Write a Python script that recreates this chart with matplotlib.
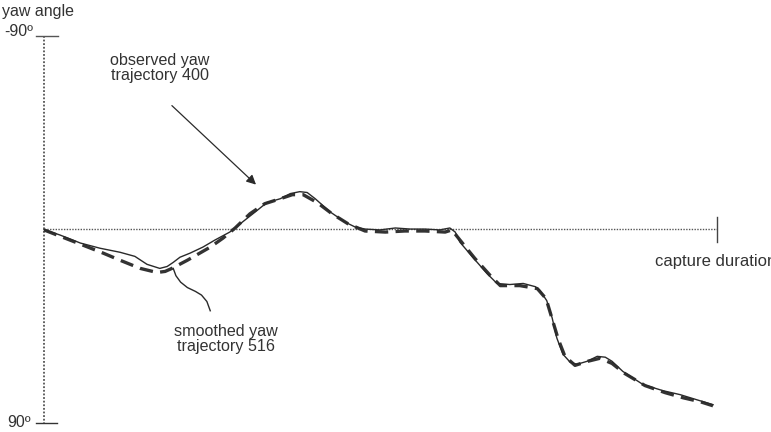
import matplotlib
matplotlib.use("Agg")
import matplotlib.pyplot as plt

plt.rcParams['font.family'] = ['Liberation Sans', 'DejaVu Sans']

# tempo (0..100 = duração da captura) e ângulo de guinada (graus)
obs_t = [0, 2.4, 5.4, 8.3, 11.3, 13.5, 15.3, 17.2, 18.3, 19.2, 20.2, 21.7, 23.6, 25.4,
         27.6, 29.9, 31.4, 33.1, 35.1, 36.6, 38.0, 39.1, 40.3, 42.5, 44.7, 46.2, 47.7,
         49.9, 52.2, 54.4, 56.6, 58.8, 60.3, 61.1, 61.8, 63.7, 65.8, 67.3, 69.2, 71.2,
         73.0, 73.7, 74.7, 75.5, 76.2, 77.1, 78.2, 79.2, 80.7, 82.2, 83.4, 84.4, 86.0,
         89.0, 92.0, 94.5, 97.0, 99.4]
obs_yaw = [0, 2.6, 6.3, 8.7, 10.6, 12.5, 16.2, 18.1, 17.2, 15.3, 12.9, 11.0, 8.2, 4.9,
           1.2, -4.5, -8.2, -12.5, -14.3, -16.7, -17.6, -17.2, -14.3, -8.2, -3.5, -1.2, -0.2,
           0.2, -0.7, -0.2, -0.2, 0.2, -0.7, 1.2, 5.9, 12.9, 20.4, 25.1, 25.6, 25.1,
           26.6, 28.4, 33.1, 41.1, 50.5, 58.0, 61.8, 62.7, 61.3, 59.0, 59.4, 61.3, 66.0,
           72.1, 75.0, 76.8, 79.2, 81.5]

smooth_t = [0, 5.8, 8.8, 11.3, 14.3, 16.8, 18.0, 19.0, 21.3, 24.7, 26.6, 28.4, 30.6, 32.8,
            35.1, 36.9, 38.5, 40.6, 42.8, 45.2, 47.7, 50.7, 53.6, 56.6, 59.6, 60.6, 61.8,
            64.0, 66.3, 67.8, 70.7, 73.3, 74.6, 75.5, 76.4, 77.4, 78.9, 80.8, 82.6, 84.4,
            86.3, 89.3, 92.3, 95.0, 97.5, 99.4]
smooth_yaw = [0.2, 7.3, 11.0, 14.3, 18.1, 20.0, 19.5, 18.1, 14.3, 8.2, 4.0, -0.7, -7.3, -12.0,
              -14.3, -16.2, -16.2, -12.5, -7.3, -2.6, 0.7, 1.2, 0.7, 0.7, 1.2, 0.2, 4.9,
              13.4, 21.4, 26.1, 26.1, 27.5, 32.2, 41.6, 51.0, 59.0, 63.2, 61.3, 59.9, 62.3,
              67.0, 72.6, 75.9, 78.3, 80.1, 82.0]

# linha de chamada da trajetória suavizada
callout_t = [19.2, 19.6, 20.3, 21.3, 22.5, 23.4, 24.2, 24.7]
callout_yaw = [18.1, 21.5, 24.5, 27.0, 28.8, 30.5, 33.5, 37.8]

fig = plt.figure(figsize=(7.71, 4.32), dpi=100)
ax = fig.add_axes([0, 0, 1, 1])
ax.set_xlim(-6.54, 108.02)
ax.set_ylim(94.19, -106.74)
ax.axis('off')

cor = '#2a2a2a'
txt = '#333333'

# eixo vertical pontilhado com marcas nas extremidades
ax.plot([0, 0], [-90, 90], color='#555555', lw=1.3, linestyle=(0, (1, 1)))
ax.plot([-1.2, 2.1], [-90, -90], color='#555555', lw=1.0)
ax.plot([-1.2, 1.9], [90, 90], color='#333333', lw=1.0)

# linha de referência 0° e fim da captura
ax.plot([0, 100], [0, 0], color='#555555', lw=1.0, linestyle=(0, (1, 1)))
ax.plot([100, 100], [-5.6, 5.6], color='#444444', lw=1.0)

# trajetórias
ax.plot(smooth_t, smooth_yaw, color='#333333', lw=2.4, linestyle=(0, (4, 2.2)))
ax.plot(obs_t, obs_yaw, color=cor, lw=1.0)

# anotações
ax.annotate('', xy=(31.8, -20.0), xytext=(18.7, -58.5),
            arrowprops=dict(arrowstyle='-|>', color=cor, lw=0.9, mutation_scale=14))
ax.plot(callout_t, callout_yaw, color=cor, lw=1.0)

ax.text(17.2, -75.1, 'observed yaw\ntrajectory 400', ha='center', va='center',
        fontsize=11.6, color=txt, linespacing=1.0)
ax.text(27.0, 50.9, 'smoothed yaw\ntrajectory 516', ha='center', va='center',
        fontsize=11.6, color=txt, linespacing=1.0)
ax.text(90.8, 15.1, 'capture duration', ha='left', va='center',
        fontsize=12, color=txt)
ax.text(-6.2, -101.5, 'yaw angle', ha='left', va='center', fontsize=11.5, color=txt)
ax.text(-1.6, -90, '-90º', ha='right', va='baseline', fontsize=11.5, color=txt)
ax.text(-2.0, 90, '90º', ha='right', va='center', fontsize=11.5, color=txt)

fig.savefig('out.png', dpi=100)
